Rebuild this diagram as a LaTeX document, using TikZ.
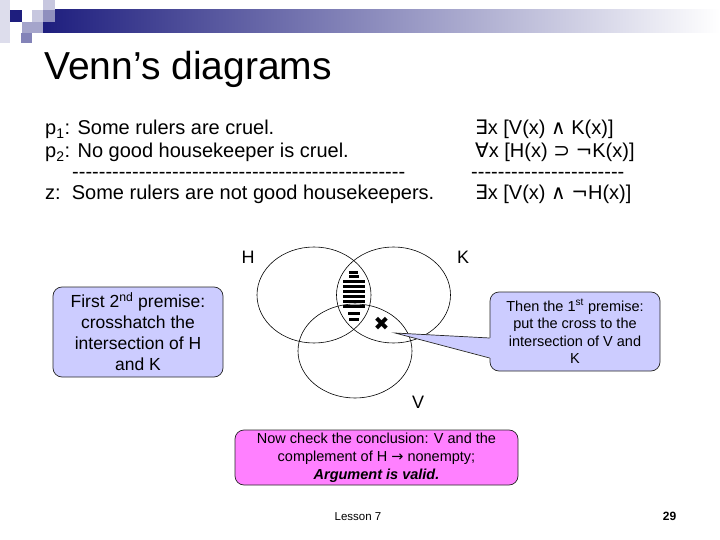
\documentclass[tikz,border=0pt]{standalone}
\usepackage{fontspec}
\setmainfont{Liberation Sans}
\newfontfamily\symf{DejaVu Sans}
\usepackage{xcolor}
\usepackage{tikz}
\usetikzlibrary{positioning, calc}
\definecolor{VD_NAVY}{HTML}{1E1E7E}
\definecolor{VD_LAV}{HTML}{CCCCFF}
\definecolor{VD_PINK}{HTML}{FF80FF}
\newcommand{\hyphens}[1]{\foreach \i in {1,...,#1}{-}}
\tikzset{
  txtline/.style={
    anchor=base west, inner sep=0pt,
    font=\fontsize{20}{24}\selectfont},
  setlab/.style={
    inner sep=0pt, font=\fontsize{18}{22}\selectfont},
  setline/.style={draw=black, line width=0.6pt},
  note/.style={
    rectangle, rounded corners=9pt,
    text centered, align=center, inner sep=2pt,
    draw=black!85, line width=0.7pt, fill=VD_LAV},
  finalbox/.style={
    rectangle, rounded corners=9pt,
    minimum width=283pt, minimum height=55pt,
    text centered, align=center, inner sep=2pt,
    draw=black!85, line width=0.7pt, fill=VD_PINK,
    font=\fontsize{14.5}{18}\selectfont},
  hatchbar/.style={fill=black},
}

\begin{document}
\begin{tikzpicture}[x=1pt, y=-1pt]
  \useasboundingbox (0,0) rectangle (720,540);

  % header bar and squares
  \shade[left color=VD_NAVY, right color=white] (43,10) rectangle (720,33);
  \fill[VD_NAVY!15] (0,0) rectangle (10,43);
  \fill[VD_NAVY!25] (43,0) rectangle (55,10);
  \fill[VD_NAVY!25] (32,10) rectangle (43,22);
  \fill[VD_NAVY!50] (43,10) rectangle (55,22);
  \fill[VD_NAVY] (10,10) rectangle (22,22);
  \fill[VD_NAVY!40] (22,22) rectangle (43,33);
  \fill[VD_NAVY!55] (21,33) rectangle (32,43);

  \node[anchor=base west, inner sep=0pt, font=\fontsize{39}{44}\selectfont]
    (title) at (44,80) {Venn’s diagrams};

  % argument in words
  \node[txtline] (prem1) at (45,135) {p\textsubscript{1}: Some rulers are cruel.};
  \node[txtline] (prem2) at (45,158) {p\textsubscript{2}: No good housekeeper is cruel.};
  \node[txtline] (dashL) at (72,179) {\hyphens{50}};
  \node[txtline] (concl) at (45,200) {z:\ \ Some rulers are not good housekeepers.};

  % argument in symbols
  \node[txtline] (formA) at (475,135) {{\symf ∃}x [V(x) {\symf ∧} K(x)]};
  \node[txtline] (formB) at (475,158) {{\symf ∀}x [H(x) {\symf ⊃} {\symf ¬}K(x)]};
  \node[txtline] (dashR) at (471,179) {\hyphens{23}};
  \node[txtline] (formC) at (475,200) {{\symf ∃}x [V(x) {\symf ∧} {\symf ¬}H(x)]};

  % the three sets
  \draw[setline] (314,295) ellipse [x radius=57, y radius=48];
  \draw[setline] (393.5,295) ellipse [x radius=57, y radius=48];
  \draw[setline] (355,351) ellipse [x radius=57, y radius=47];

  \node[setlab] (labH) at (248,257) {H};
  \node[setlab] (labK) at (463,257) {K};
  \node[setlab] (labV) at (418,402) {V};

  % crosshatch of H and K
  \foreach \y/\w in {272/4.5, 276.5/5, 281/11, 286/11, 291/11,
                     296/11, 301/11, 306.5/11, 313/6, 319/5}
    \fill[hatchbar] (353.5-\w,\y-1.5) rectangle (353.5+\w,\y+1.5);

  \node[inner sep=0pt, font=\symf\fontsize{19}{19}\selectfont]
    (cross) at (381.5,324) {✖};

  % notes
  \node[note, minimum width=170pt, minimum height=90pt,
        font=\fontsize{17.5}{21}\selectfont] (noteL) at (138,332)
    {First 2\textsuperscript{nd} premise:\\crosshatch the\\intersection of H\\and K};

  \node[note, minimum width=170pt, minimum height=79pt,
        font=\fontsize{14.5}{17.5}\selectfont] (noteR) at (575,331.5)
    {Then the 1\textsuperscript{st} premise:\\put the cross to the\\intersection of V and\\K};

  \coordinate (tip) at ($(cross)+(13.5,9)$);
  \fill[VD_LAV] (tip) -- ($(noteR.west)+(1.5,6.5)$)
    -- ($(noteR.west)+(1.5,26.5)$) -- cycle;
  \draw[black!85, line width=0.7pt] ($(noteR.west)+(0,6.5)$) -- (tip)
    -- ($(noteR.west)+(0,26.5)$);

  \node[finalbox] (check) at (376.5,457.5)
    {Now check the conclusion: V and the\\complement of H {\symf →} nonempty;\\\textbf{\textit{Argument is valid.}}};

  % footer
  \node[inner sep=0pt, font=\fontsize{11.5}{13}\selectfont] (lesson) at (358,517) {Lesson 7};
  \node[inner sep=0pt, font=\bfseries\fontsize{12}{14}\selectfont] (pageno) at (669.5,516) {29};

\end{tikzpicture}
\end{document}
